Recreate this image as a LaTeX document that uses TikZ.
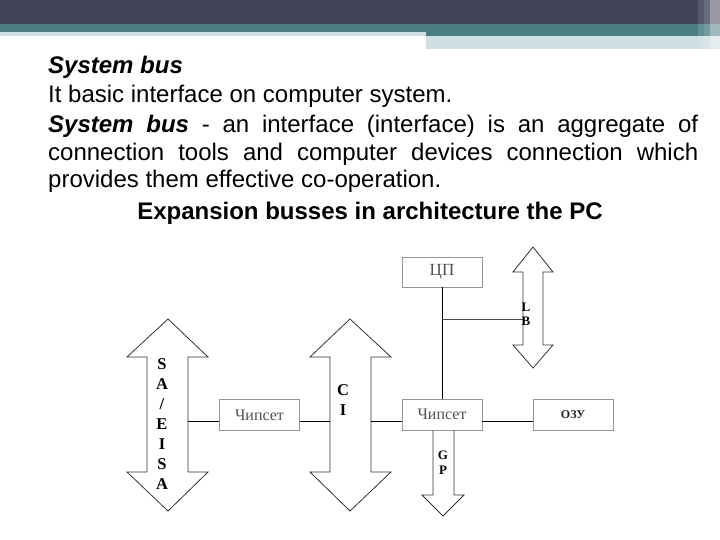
\documentclass[tikz,border=0pt]{standalone}
\usepackage{fontspec}
\setmainfont{Liberation Sans}
\newfontfamily\diafont{Liberation Serif}
\usetikzlibrary{calc}
\definecolor{hdrdark}{RGB}{66,67,87}
\definecolor{hdrteal}{RGB}{74,127,130}
\definecolor{hdrlight}{RGB}{208,223,226}
\definecolor{boxline}{RGB}{150,150,150}
\definecolor{boxtext}{RGB}{80,80,80}
\begin{document}
\begin{tikzpicture}[x=1pt,y=-1pt,
  bodytext/.style={inner sep=0pt,anchor=base west,font=\fontsize{24}{28}\selectfont},
  unitbox/.style={draw=boxline,line width=0.9pt,minimum width=80pt,minimum height=31pt,inner sep=0pt,font=\diafont\fontsize{16}{16}\selectfont,text=boxtext},
  busarrow/.style={draw=black!80,line width=0.8pt},
  wire/.style={draw=black,line width=0.8pt},
  buslabel/.style={inner sep=0pt,anchor=base,font=\diafont\bfseries\fontsize{16.5}{20}\selectfont,align=center}]
\useasboundingbox (0,0) rectangle (720,540);
% header bands
\fill[hdrdark] (0,0) rectangle (720,24);
\fill[hdrteal] (0,24) rectangle (720,32);
\fill[hdrteal] (426,32) rectangle (720,36);
\fill[hdrlight] (0,32) rectangle (426,36);
\fill[hdrlight] (426,36) rectangle (720,49);
\fill[white,opacity=0.12] (698,0) rectangle (720,49);
\fill[white,opacity=0.12] (704,0) rectangle (720,49);
\fill[white,opacity=0.30] (710,0) rectangle (720,49);
% text
\node[bodytext] (t1) at (48,74) {\textbf{\textit{System bus}}};
\node[bodytext] (t2) at (48,103) {It basic interface on computer system.};
\node[bodytext] (t3) at (48,133) {\makebox[650pt][s]{\textbf{\textit{System bus}} - an interface (interface) is an aggregate of}};
\node[bodytext] (t4) at (48,161) {\makebox[650pt][s]{connection tools and computer devices connection which}};
\node[bodytext] (t5) at (48,188) {provides them effective co-operation.};
\node[inner sep=0pt,anchor=base,font=\bfseries\fontsize{24}{28}\selectfont] (title) at (370,219) {Expansion busses in architecture the PC};
% bus arrows
\draw[busarrow] (168,319) -- (208,357) -- (188,357) -- (188,472) -- (208,472) -- (168,511) -- (127,472) -- (147,472) -- (147,357) -- (127,357) -- cycle;
\draw[busarrow] (350,319) -- (391,357) -- (371,357) -- (371,472) -- (391,472) -- (350,511) -- (310,472) -- (330,472) -- (330,357) -- (310,357) -- cycle;
\draw[busarrow] (533,247) -- (553,272) -- (543,272) -- (543,345) -- (553,345) -- (533,368) -- (513,345) -- (523,345) -- (523,272) -- (513,272) -- cycle;
\coordinate (isaR) at (188,421);
\coordinate (ciL) at (330,421);
\coordinate (ciR) at (371,421);
\coordinate (lbL) at (523,319);
\coordinate (tj) at (442,319);
% units
\node[unitbox] (chipL) at (259.5,415) {Чипсет};
\node[unitbox] (chipR) at (442,414.5) {Чипсет};
\node[unitbox,font=\diafont\bfseries\fontsize{12}{12}\selectfont,text=black!85] (ram) at (573,414.5) {ОЗУ};
\node[unitbox,minimum height=30pt,font=\diafont\fontsize{17}{17}\selectfont] (cpu) at (442,272) {ЦП};
% GP arrow attached under chipset
\draw[busarrow] (chipR.south -| 433,0) -- (433,495) -- (422,495) -- (443,516) -- (464,495) -- (454,495) -- (chipR.south -| 454,0);
% connectors
\draw[wire] (isaR) -- (chipL.west |- isaR);
\draw[wire] (chipL.east |- ciL) -- (ciL);
\draw[wire] (ciR) -- (chipR.west |- ciR);
\draw[wire] (chipR.east |- ciR) -- (ram.west |- ciR);
\draw[wire] (cpu.south) -- (chipR.north);
\draw[wire,draw=black!70] (tj) -- (lbL);
% bus labels (anchor = baseline of the last line)
\node[buslabel] (isalbl) at (162,489) {S\\A\\/\\E\\I\\S\\A};
\node[buslabel] (cilbl) at (343,415) {C\\I};
\node[buslabel,font=\diafont\bfseries\fontsize{13}{14}\selectfont] (lblbl) at (526,325) {L\\B};
\node[buslabel,font=\diafont\bfseries\fontsize{13}{15}\selectfont] (gplbl) at (443,474) {G\\P};
\end{tikzpicture}
\end{document}
